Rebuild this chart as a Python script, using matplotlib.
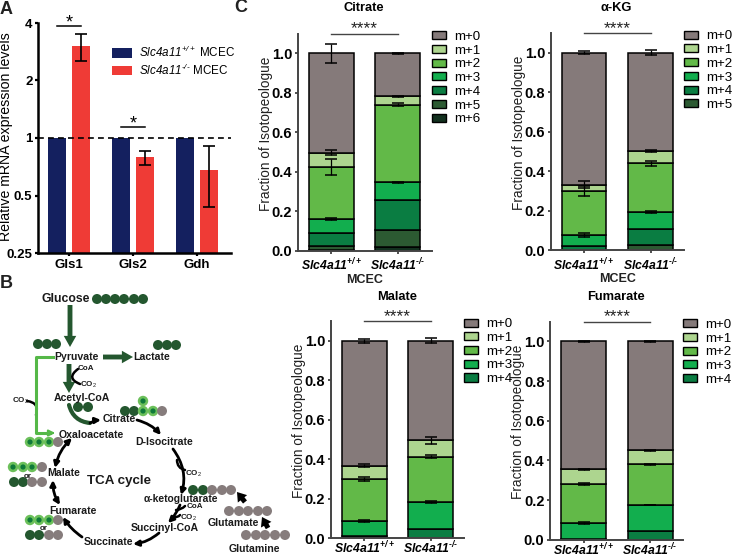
import matplotlib
matplotlib.use('Agg')
import matplotlib.pyplot as plt
from matplotlib.patches import Circle, FancyArrowPatch, Patch
import numpy as np

plt.rcParams['font.family'] = ['Liberation Sans', 'DejaVu Sans']
plt.rcParams['mathtext.fontset'] = 'custom'
plt.rcParams['mathtext.rm'] = 'Liberation Sans'
plt.rcParams['mathtext.it'] = 'Liberation Sans:italic'
plt.rcParams['mathtext.cal'] = 'Liberation Sans:italic'
plt.rcParams['mathtext.bf'] = 'Liberation Sans:bold'
plt.rcParams['mathtext.bfit'] = 'Liberation Sans:italic:bold'

W, H = 737, 556

# panel A
genes = ['Gls1', 'Gls2', 'Gdh']
wt_expr = [1, 1, 1]
ko_expr = [3.04, 0.795, 0.676]
ko_low = [2.53, 0.72, 0.436]
ko_high = [3.5, 0.855, 0.907]

# panel C, every list runs m+0, m+1, ...
genotypes = ['$\\mathbfit{Slc4a11}^{\\mathbfit{+/+}}$', '$\\mathbfit{Slc4a11}^{\\mathbfit{\u2010/\u2010}}$']
citrate_wt = [0.503, 0.074, 0.263, 0.070, 0.068, 0.018, 0.004]
citrate_ko = [0.218, 0.042, 0.394, 0.089, 0.154, 0.085, 0.018]
citrate_wt_err = [0.047, 0.013, 0.040, 0.005, 0, 0, 0]
citrate_ko_err = [0.001, 0.004, 0.008, 0.001, 0, 0, 0]
akg_wt = [0.667, 0.033, 0.223, 0.055, 0.022, 0.0]
akg_ko = [0.498, 0.062, 0.245, 0.087, 0.081, 0.027]
akg_wt_err = [0.008, 0.020, 0.027, 0.010, 0, 0]
akg_ko_err = [0.012, 0.006, 0.012, 0.005, 0, 0]
malate_wt = [0.632, 0.070, 0.211, 0.077, 0.010]
malate_ko = [0.505, 0.083, 0.229, 0.137, 0.046]
malate_wt_err = [0.010, 0.006, 0.010, 0.007, 0]
malate_ko_err = [0.012, 0.018, 0.007, 0.004, 0]
fumarate_wt = [0.645, 0.075, 0.195, 0.083, 0.002]
fumarate_ko = [0.549, 0.071, 0.205, 0.129, 0.046]
fumarate_wt_err = [0.003, 0.002, 0.004, 0.004, 0]
fumarate_ko_err = [0.003, 0.002, 0.004, 0.001, 0]
iso_colors = ['#857a7a', '#add58f', '#62b948', '#12ae4e', '#0a7d42', '#2c5a32', '#12301e']

# panel B schematic, pixel positions on the figure
dark, ring, grey = '#24572f', '#0f7a3a', '#867c7c'
labels = [('Glucose', 66, 299, 8.8), ('Pyruvate', 76, 357, 7.6), ('Lactate', 152, 357, 7.6),
          ('Acetyl-CoA', 82, 398, 7.6), ('Citrate', 119, 419, 7.6), ('Oxaloacetate', 91, 435, 7.6),
          ('D-Isocitrate', 164, 442, 7.6), ('Malate', 64, 473, 7.6), ('TCA cycle', 119, 481, 9.6),
          ('α-ketoglutarate', 181, 499, 7.4), ('Fumarate', 73, 511, 7.6), ('Succinyl-CoA', 165, 528, 7.6),
          ('Glutamate', 233, 523, 7.6), ('Succinate', 108, 542, 7.6), ('Glutamine', 254, 549, 7.6)]
small_labels = [('CoA', 86, 369), ('CO$_2$', 88, 385), ('CO$_2$', 20, 401), ('CO$_2$', 193, 474),
                ('CoA', 195, 506), ('CO$_2$', 188, 518), ('or', 28, 476), ('or', 44, 528)]
dots = [([97, 106, 115, 124, 134, 143], 299, 'd'), ([38, 47, 56], 344, 'd'), ([158, 167, 176], 345, 'd'),
        ([78, 88], 407, 'd'), ([125, 134], 411, 'd'), ([143, 153], 411, 'r'), ([143], 401, 'r'),
        ([162], 411, 'g'), ([30, 39, 49], 442, 'r'), ([58], 442, 'g'), ([13, 23, 32], 467, 'r'),
        ([42], 467, 'g'), ([14, 23], 482, 'd'), ([32, 42], 482, 'g'), ([30, 39, 49], 520, 'r'),
        ([58], 520, 'g'), ([30, 39], 535, 'd'), ([49, 58], 535, 'g'), ([193, 203], 490, 'd'),
        ([212, 222, 231], 490, 'g'), ([229, 239, 248, 258, 267], 511, 'g'),
        ([246, 256, 265, 275, 285], 535, 'g')]
# start, end, curvature, style
cycle_arrows = [((137, 420), (161, 435), -0.15, '-|>'), ((173, 449), (181, 495), -0.25, '-|>'),
                ((180, 505), (168, 523), -0.1, '-|>'), ((159, 533), (133, 544), -0.15, '-|>'),
                ((82, 537), (63, 517), -0.1, '-|>'), ((60, 505), (53, 480), -0.15, '<|-|>'),
                ((55, 468), (72, 438), -0.15, '<|-|>'), ((90, 423), (101, 420), -0.1, '-|>')]
side_curves = [((78, 369), (80, 384), 0.9), ((27, 401), (36, 415), -0.6), ((177, 460), (185, 470), 0.4),
               ((176, 510), (185, 506), 0.2), ((174, 517), (180, 515), 0.3)]
green_arrows = [((70, 305), (70, 347)), ((103, 357), (133, 357)), ((69, 364), (69, 393))]
thick_arrows = [((245, 502), (237, 492)), ((268, 528), (262, 517))]


def px_axes(fig, left, right, top, bottom):
    return fig.add_axes([left / W, 1 - bottom / H, (right - left) / W, (bottom - top) / H])


def style_axes(ax, lw, color='black'):
    for side in ['top', 'right']:
        ax.spines[side].set_visible(False)
    for side in ['left', 'bottom']:
        ax.spines[side].set_linewidth(lw)
        ax.spines[side].set_color(color)
    ax.patch.set_alpha(0)


def stacked(fig, title, wt, ko, wt_err, ko_err, left, right, top, bottom, c0, title_y, xlabel=False):
    ax = px_axes(fig, left, right, top, bottom)
    xlim = ((left - c0) / 66.5, (right - c0) / 66.5)
    for x, vals, errs in [(0, wt, wt_err), (1, ko, ko_err)]:
        vals = np.array(vals)[::-1]
        errs = np.array(errs)[::-1]
        cols = iso_colors[:len(vals)][::-1]
        bottoms = np.concatenate([[0], np.cumsum(vals)[:-1]])
        ax.bar(x, vals, 0.675, bottom=bottoms, color=cols, edgecolor='black', linewidth=1.1, zorder=2)
        tops = bottoms + vals
        keep = errs > 0
        ax.errorbar([x] * keep.sum(), tops[keep], yerr=errs[keep], fmt='none', ecolor='black',
                    elinewidth=0.9, capsize=4, capthick=1.1, zorder=3)
    ax.set_xlim(*xlim)
    ax.set_ylim(0, 1.1)
    ax.set_xticks([0, 1])
    ax.set_xticklabels(genotypes, fontsize=8.8)
    ax.set_yticks([0, 0.2, 0.4, 0.6, 0.8, 1.0])
    ax.set_yticklabels(['0.0', '0.2', '0.4', '0.6', '0.8', '1.0'], fontsize=10.5, fontweight='bold')
    ax.tick_params(width=1.2, length=2.5, color='#333333', pad=1.5)
    # the lower row sits right on the figure edge
    ax.tick_params(axis='x', pad=2 if xlabel else -1.2)
    ax.set_ylabel('Fraction of Isotopeologue', fontsize=9.8, color='#222222')
    ax.yaxis.set_label_coords(-25 / (right - left), 0.54)
    style_axes(ax, 1.4, '#444444')
    # bracket
    ax.plot([0, 1], [1.1, 1.1], color='#444444', lw=1, clip_on=False)
    ax.text(0.5, 1.085, '****', ha='center', va='bottom', fontsize=12.5, color='#222222')
    ax.text(0.49, (bottom - title_y) / (bottom - top), title, ha='center', va='center', fontsize=9.3,
            fontweight='bold', transform=ax.get_xaxis_transform())
    if xlabel:
        ax.set_xlabel('MCEC', fontsize=9, fontweight='bold', labelpad=0, color='#222222')
    names = ['m+%d' % i for i in range(len(wt))]
    handles = [Patch(facecolor=iso_colors[i], edgecolor='black', linewidth=1) for i in range(len(wt))]
    ax.legend(handles, names, loc='upper left', bbox_to_anchor=(1.0, 1.012), frameon=False, fontsize=9.6,
              handlelength=1.05, handleheight=0.55, handletextpad=0.6, labelspacing=0.13, borderpad=0,
              borderaxespad=0)
    return ax


fig = plt.figure(figsize=(W / 100, H / 100), dpi=100)

# A
ax = px_axes(fig, 38, 231, 23, 253)
ax.set_yscale('log', base=2)
xs = np.arange(len(genes))
ko_expr_arr = np.array(ko_expr)
err = [ko_expr_arr - np.array(ko_low), np.array(ko_high) - ko_expr_arr]
ax.bar(xs - 0.1875, wt_expr, 0.29, color='#14205f', label='$\\mathcal{Slc4a11}^{\\mathcal{+/+}}$ MCEC')
ax.bar(xs + 0.1875, ko_expr, 0.29, color='#ef3b36', label='$\\mathcal{Slc4a11}^{\\mathcal{\u2010/\u2010}}$ MCEC')
ax.errorbar(xs + 0.1875, ko_expr, yerr=err, fmt='none', ecolor='black', elinewidth=1.2, capsize=4, capthick=1.2)
ax.axhline(1, color='black', ls=(0, (3.5, 2.5)), lw=1.2)
ax.set_xlim(-0.484, 2.53)
ax.set_ylim(0.25, 4)
ax.set_yticks([0.25, 0.5, 1, 2, 4])
ax.set_yticklabels(['0.25', '0.5', '1', '2', '4'], fontsize=9.5, fontweight='bold')
ax.minorticks_off()
ax.set_xticks(xs)
ax.set_xticklabels(genes, fontsize=9.5, fontweight='bold')
ax.tick_params(width=1.6, length=2.5, pad=1.5)
ax.set_ylabel('Relative mRNA expression levels', fontsize=10.2)
ax.yaxis.set_label_coords(-25 / 193, 0.505)
style_axes(ax, 1.8)
ax.plot([-0.1875, 0.1875], [3.86, 3.86], color='black', lw=1.1, clip_on=False)
ax.text(0, 3.6, '*', ha='center', va='bottom', fontsize=13, clip_on=False)
ax.plot([0.8125, 1.1875], [1.14, 1.14], color='black', lw=1.1)
ax.text(1, 1.07, '*', ha='center', va='bottom', fontsize=13)
ax.legend(loc='upper left', bbox_to_anchor=(0.385, 0.905), frameon=False, fontsize=8.4, handlelength=1.7,
          handleheight=0.85, handletextpad=0.55, labelspacing=0.2, borderpad=0, borderaxespad=0)

# C
stacked(fig, 'Citrate', citrate_wt, citrate_ko, citrate_wt_err, citrate_ko_err, 297.7, 431.7, 33.6, 250.7, 331.3, 8, True)
stacked(fig, 'α-KG', akg_wt, akg_ko, akg_wt_err, akg_ko_err, 550.7, 684, 33, 250.3, 584, 8, True)
stacked(fig, 'Malate', malate_wt, malate_ko, malate_wt_err, malate_ko_err, 330.7, 464, 320.9, 538.3, 364.2, 296.7)
stacked(fig, 'Fumarate', fumarate_wt, fumarate_ko, fumarate_wt_err, fumarate_ko_err, 550, 683, 321.5, 539.7, 583.7, 296.7)

# B, and the panel letters, on a full figure overlay in pixels
ov = fig.add_axes([0, 0, 1, 1], zorder=5)
ov.set_xlim(0, W)
ov.set_ylim(H, 0)
ov.axis('off')

ov.plot([53, 36, 36, 50], [357, 357, 433, 433], color='#55b848', lw=2.2, solid_joinstyle='round')
ov.add_patch(FancyArrowPatch((48, 433), (58, 433), arrowstyle='-|>', mutation_scale=9, color='#55b848', lw=1.5))
for a, b in green_arrows:
    ov.add_patch(FancyArrowPatch(a, b, arrowstyle='simple,tail_width=0.35,head_width=0.9,head_length=0.8',
                                 mutation_scale=10, color=dark, lw=0, shrinkA=0, shrinkB=0))
ov.add_patch(FancyArrowPatch((69, 405), (90, 423), connectionstyle='arc3,rad=0.35', arrowstyle='-',
                             color=dark, lw=3, shrinkA=0, shrinkB=0))
for a, b, rad, st in cycle_arrows:
    ov.add_patch(FancyArrowPatch(a, b, connectionstyle='arc3,rad=%s' % rad, arrowstyle=st, mutation_scale=8,
                                 color='black', lw=2, shrinkA=0, shrinkB=0))
for a, b, rad in side_curves:
    ov.add_patch(FancyArrowPatch(a, b, connectionstyle='arc3,rad=%s' % rad, arrowstyle='-',
                                 color='black', lw=1.8, shrinkA=0, shrinkB=0))
for a, b in thick_arrows:
    ov.add_patch(FancyArrowPatch(a, b, arrowstyle='simple,tail_width=0.4,head_width=0.95,head_length=0.7',
                                 mutation_scale=9, color='black', lw=0, shrinkA=0, shrinkB=0))
for cx, cy, kind in dots:
    for x in cx:
        if kind == 'r':
            ov.add_patch(Circle((x, cy), 5.2, color='#6cc05a', lw=0))
            ov.add_patch(Circle((x, cy), 2.6, color=ring, lw=0))
        else:
            ov.add_patch(Circle((x, cy), 5.0, color=dark if kind == 'd' else grey, lw=0))
for s, x, y, size in labels:
    ov.text(x, y, s, ha='center', va='center', fontsize=size, fontweight='bold', color='#1a1a1a')
for s, x, y in small_labels:
    ov.text(x, y, s, ha='center', va='center', fontsize=5.8, fontweight='bold', color='#1a1a1a')
for s, x, y in [('A', 6, 9), ('B', 6, 284), ('C', 241, 8)]:
    ov.text(x, y, s, ha='center', va='center', fontsize=13, fontweight='bold', color='#222222')

fig.savefig('out.png', dpi=100)
